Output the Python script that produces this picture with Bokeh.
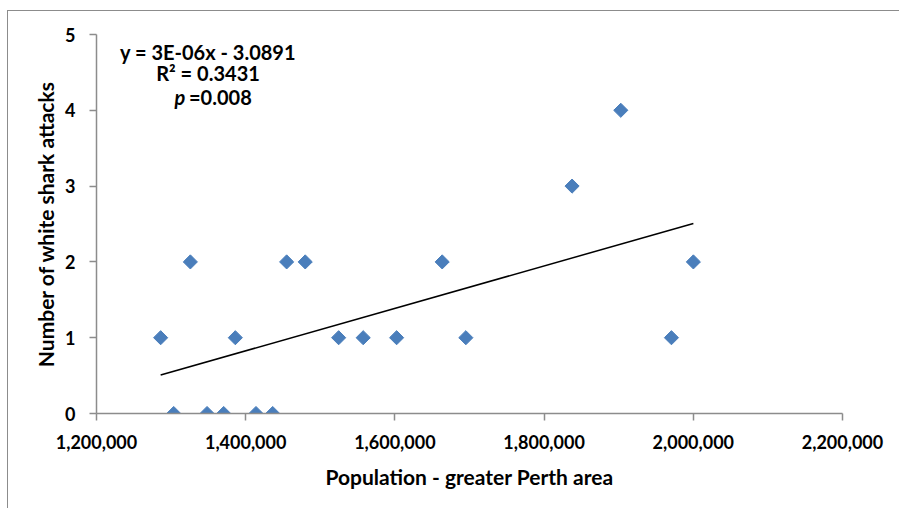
import numpy as np
from bokeh.plotting import figure
from bokeh.models import Label, NumeralTickFormatter, FixedTicker
from bokeh.embed import file_html
from bokeh.resources import INLINE

# Data
population = [1286000, 1303500, 1325800, 1348200, 1370500, 1386100, 1413800,
              1436200, 1454900, 1479800, 1524600, 1557500, 1602300, 1663400,
              1695100, 1837500, 1902800, 1970700, 2000100]
attacks = [1, 0, 2, 0, 0, 1, 0, 0, 2, 2, 1, 1, 1, 2, 1, 3, 4, 1, 2]
x_ticks = [1200000, 1400000, 1600000, 1800000, 2000000, 2200000]
y_ticks = [0, 1, 2, 3, 4, 5]
eq_text = "y = 3E-06x - 3.0891"
r2_text = "R\u00b2 = 0.3431"
p_text = "=0.008"

FONT = "Lato"
AXIS_GRAY = "#8c8c8c"
BLUE = "#4a7ebb"

p = figure(frame_width=746, frame_height=379,
           min_border_left=88, min_border_right=57,
           min_border_top=23, min_border_bottom=95,
           x_range=(1200000, 2200000), y_range=(0, 5),
           output_backend="svg", toolbar_location=None,
           background_fill_color="white", border_fill_color="white")
p.margin = (10, 0, 0, 7)
p.outline_line_color = None
p.styles = {"border-top": "1px solid #8c8c8c", "border-left": "1px solid #8c8c8c"}
p.xgrid.visible = False
p.ygrid.visible = False

# trend line (least squares fit of the data)
slope, intercept = np.polyfit(population, attacks, 1)
xs = [min(population), max(population)]
p.line(xs, [slope * v + intercept for v in xs], line_color="black", line_width=1.5)

p.scatter(population, attacks, marker="square", size=10, angle=np.pi / 4,
          fill_color=BLUE, line_color=BLUE)

for ax in (p.xaxis[0], p.yaxis[0]):
    ax.axis_line_color = AXIS_GRAY
    ax.axis_line_width = 1.5
    ax.major_tick_line_color = AXIS_GRAY
    ax.major_tick_line_width = 1.5
    ax.major_tick_out = 7
    ax.major_tick_in = 0
    ax.minor_tick_line_color = None
    ax.major_label_text_font = FONT
    ax.major_label_text_font_style = "bold"
    ax.major_label_text_font_size = "18px"
    ax.major_label_text_color = "black"
    ax.axis_label_text_font = FONT
    ax.axis_label_text_font_style = "bold"
    ax.axis_label_text_font_size = "21px"
    ax.axis_label_text_color = "black"
    ax.major_label_standoff = 14

p.xaxis.ticker = FixedTicker(ticks=x_ticks)
p.yaxis.ticker = FixedTicker(ticks=y_ticks)
p.xaxis.formatter = NumeralTickFormatter(format="0,0")
p.xaxis.axis_label = "Population - greater Perth area"
p.yaxis.axis_label = "Number of white shark attacks"
p.xaxis.axis_label_standoff = 12
p.yaxis.axis_label_standoff = 4

common = dict(text_font=FONT, text_font_style="bold", text_font_size="20px",
              text_color="black", text_baseline="middle")
p.add_layout(Label(x=1349500, y=4.77, text=eq_text, text_align="center", **common))
p.add_layout(Label(x=1349500, y=4.49, text=r2_text, text_align="center", **common))
p.add_layout(Label(x=1319000, y=4.18, text="p", text_align="right",
                   text_font=FONT, text_font_style="bold italic", text_font_size="20px",
                   text_color="black", text_baseline="middle"))
p.add_layout(Label(x=1324000, y=4.18, text=p_text, text_align="left", **common))

open("out.html", "w").write(file_html(p, INLINE))
